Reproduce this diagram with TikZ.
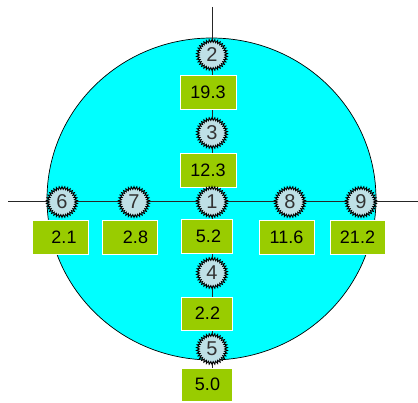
\documentclass[tikz,border=0pt]{standalone}
\usepackage{fontspec}
\setmainfont{Liberation Sans}
\usetikzlibrary{shapes.geometric}
\definecolor{disc}{HTML}{00FFFF}
\definecolor{boxfill}{HTML}{99CC00}
\definecolor{gearfill}{HTML}{BEE0E6}
\definecolor{geartext}{HTML}{333333}
\tikzset{
  gear/.style={star, star points=34, star point ratio=1.22, minimum size=31pt,
    inner sep=0pt, fill=gearfill, draw=black, line width=0.9pt,
    text=geartext, font=\fontsize{20}{20}\selectfont},
  valbox/.style={rectangle, fill=boxfill, draw=white, line width=0.6pt,
    minimum height=34pt, inner sep=0pt, font=\fontsize{18}{18}\selectfont},
  wide/.style={minimum width=56pt},
  narrow/.style={minimum width=51pt},
  axis/.style={draw=black!85, line width=0.7pt}
}
\begin{document}
\begin{tikzpicture}[x=1pt,y=-1pt]
\useasboundingbox (0,0) rectangle (418,403);
\fill[disc] (211.5,199) ellipse [x radius=164.5, y radius=161];
\draw[line width=0.7pt] (211.5,199) ellipse [x radius=164.5, y radius=161];
\coordinate (L) at (8,201);
\coordinate (R) at (418,201);
\coordinate (T) at (212,7);
\coordinate (B) at (212,368);
\draw[axis] (L) -- (R);
\draw[axis] (T) -- (B);
% boxes
\node[valbox,wide] (b2) at (208,92) {19.3};
\node[valbox,wide] (b3) at (208,170) {12.3};
\node[valbox,narrow] (b1) at (206.5,236) {\hspace*{4pt}5.2};
\node[valbox,narrow,minimum height=33pt] (b4) at (206.5,313.5) {\hspace*{2pt}2.2};
\node[valbox,narrow,minimum height=33pt] (b5) at (206.5,384.5) {\hspace*{2pt}5.0};
\node[valbox,wide] (b6) at (60,237) {\hspace*{8pt}2.1};
\node[valbox,wide,minimum width=55pt] (b7) at (129.5,237) {\hspace*{12pt}2.8};
\node[valbox,minimum width=55pt] (b8) at (286.5,237) {11.6};
\node[valbox,minimum width=55pt] (b9) at (357.5,237) {21.2};
% gears
\node[gear] (g2) at (212,55) {2};
\node[gear] (g3) at (212,133) {3};
\node[gear] (g1) at (212,202) {1};
\node[gear] (g4) at (212,273) {4};
\node[gear] (g5) at (212,349) {5};
\node[gear] (g6) at (62,202) {6};
\node[gear] (g7) at (134,202) {7};
\node[gear] (g8) at (290,202) {8};
\node[gear] (g9) at (361,202) {9};
\end{tikzpicture}
\end{document}
